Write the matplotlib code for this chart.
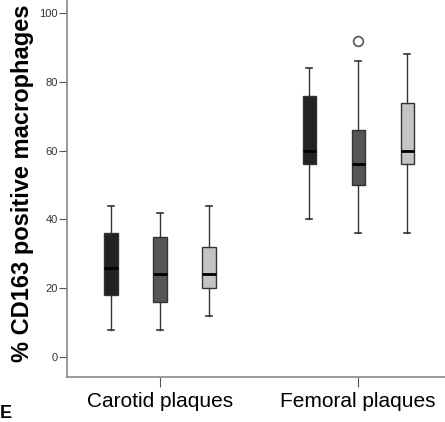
import matplotlib
matplotlib.use("Agg")
import matplotlib.pyplot as plt

# values (percent CD163 positive macrophages)
groups = ["Carotid plaques", "Femoral plaques"]
box_colors = ["#222222", "#555555", "#c4c4c4"]

whislo = [[8, 8, 12], [40, 36, 36]]
q1 = [[18, 16, 20], [56, 50, 56]]
med = [[26, 24, 24], [60, 56, 60]]
q3 = [[36, 35, 32], [76, 66, 74]]
whishi = [[44, 42, 44], [84, 86, 88]]
fliers = [[[], [], []], [[], [92], []]]

offsets = [-0.2475, 0.0, 0.2475]

plt.rcParams['font.family'] = ['Liberation Sans', 'DejaVu Sans']

fig = plt.figure(figsize=(4.45, 4.22), dpi=100)
ax = fig.add_axes([67 / 445, 1 - 377 / 422, 1 - 67 / 445, 377 / 422])

for g in range(len(groups)):
    for b in range(3):
        stats = [{
            "whislo": whislo[g][b], "q1": q1[g][b], "med": med[g][b],
            "q3": q3[g][b], "whishi": whishi[g][b], "fliers": fliers[g][b],
        }]
        ax.bxp(stats, positions=[g + offsets[b]], widths=0.066,
               patch_artist=True, showfliers=True,
               boxprops=dict(facecolor=box_colors[b], edgecolor="#333333", linewidth=1),
               medianprops=dict(color="black", linewidth=2),
               whiskerprops=dict(color="#333333", linewidth=1),
               capprops=dict(color="#333333", linewidth=1.2),
               capwidths=0.03,
               flierprops=dict(marker="o", markersize=7, markerfacecolor="white",
                               markeredgecolor="#555555", markeredgewidth=1.2))

ax.set_xlim(-0.4697, 1.439)
ax.set_ylim(-5.8, 103.8)
ax.set_xticks(range(len(groups)))
ax.set_xticklabels(groups, fontsize=15)
ax.set_yticks([0, 20, 40, 60, 80, 100])
ax.tick_params(axis="y", labelsize=8, labelcolor="#333333", length=6, width=0.8,
               color="#555555", pad=0.5)
ax.tick_params(axis="x", length=7, width=0.8, color="#555555", pad=4)

for s in ["top", "right"]:
    ax.spines[s].set_visible(False)
for s in ["left", "bottom"]:
    ax.spines[s].set_color("#888888")
    ax.spines[s].set_linewidth(1.2)

ax.set_ylabel("% CD163 positive macrophages", fontsize=17, fontweight="bold")
ax.yaxis.set_label_coords(-0.086, 0.515)

fig.text(0.0, 0.0, "E", fontsize=13, fontweight="bold", ha="left", va="bottom")

fig.savefig("out.png", dpi=100)
